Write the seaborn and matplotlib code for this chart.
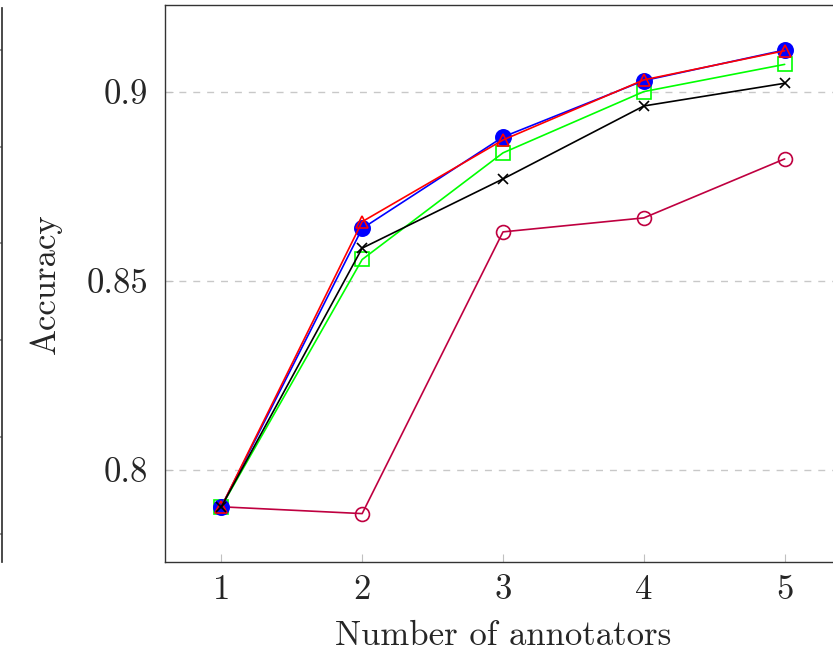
import matplotlib
matplotlib.use("Agg")
import matplotlib.pyplot as plt
import seaborn as sns
import pandas as pd

annotators = [1, 2, 3, 4, 5]
blue_circle = [0.7903, 0.8639, 0.8881, 0.9030, 0.9111]
red_triangle = [0.7903, 0.8657, 0.8873, 0.9032, 0.9109]
green_square = [0.7903, 0.8557, 0.8839, 0.9001, 0.9073]
black_cross = [0.7903, 0.8587, 0.8770, 0.8963, 0.9023]
purple_circle = [0.7903, 0.7885, 0.8630, 0.8667, 0.8823]
y_ticks = [0.8, 0.85, 0.9]
y_tick_labels = ["0.8", "0.85", "0.9"]

sns.set_theme(style="white")
plt.rcParams["font.family"] = ["cmr10", "DejaVu Serif"]
plt.rcParams["axes.formatter.use_mathtext"] = True
plt.rcParams["mathtext.fontset"] = "cm"

fig = plt.figure(figsize=(8.33, 6.58), dpi=100)
ax = fig.add_axes([165 / 833, 1 - 562 / 658, (841 - 165) / 833, (562 - 5) / 658])

series = [
    (green_square, "#00ff00", "s", False, 10),
    (purple_circle, "#bf0040", "o", False, 10),
    (blue_circle, "#0000ff", "o", True, 11),
    (red_triangle, "#ff0000", "^", False, 8),
    (black_cross, "black", "x", False, 7),
]
for vals, col, mk, filled, ms in series:
    df = pd.DataFrame({"x": annotators, "y": vals})
    kw = dict(markerfacecolor=col if filled else "none", markeredgecolor=col,
              markeredgewidth=1.2)
    sns.lineplot(data=df, x="x", y="y", ax=ax, color=col, marker=mk,
                 markersize=ms, linewidth=1.2, **kw)

ax.set_xlim(0.6, 5.4)
ax.set_ylim(0.7757, 0.923)
ax.set_xticks(annotators)
ax.set_xticklabels([str(a) for a in annotators])
ax.set_yticks(y_ticks)
ax.set_yticklabels(y_tick_labels)
for yv in y_ticks:
    ax.axhline(yv, color="#c8c8c8", linestyle=(0, (5, 5)), linewidth=1.0, zorder=0)
ax.tick_params(axis="both", which="both", direction="in", length=6, width=0.8,
               color="#c0c0c0", labelsize=25, pad=12, left=True, bottom=True)
ax.tick_params(axis="x", pad=9)
ax.set_xlabel("Number of annotators", fontsize=25, labelpad=10)
ax.set_ylabel("Accuracy", fontsize=25, labelpad=18)
for s in ["left", "bottom", "top"]:
    ax.spines[s].set_color("#333333")
    ax.spines[s].set_linewidth(1.0)
ax.spines["right"].set_visible(False)

# partial neighbouring axis at the left edge
ax2 = fig.add_axes([-0.2, 1 - 562 / 658, 0.2 + 2 / 833, (562 - 8) / 658])
ax2.set_xlim(0, 1)
ax2.set_ylim(0, 1)
for s in ["left", "bottom", "top"]:
    ax2.spines[s].set_visible(False)
ax2.spines["right"].set_color("#333333")
ax2.set_xticks([])
ax2.yaxis.tick_right()
ax2.set_yticks([0.05, 0.225, 0.40, 0.575, 0.75, 0.925])
ax2.tick_params(axis="y", direction="in", length=5, color="#888888", labelright=False)

fig.savefig("out.png", dpi=100)
